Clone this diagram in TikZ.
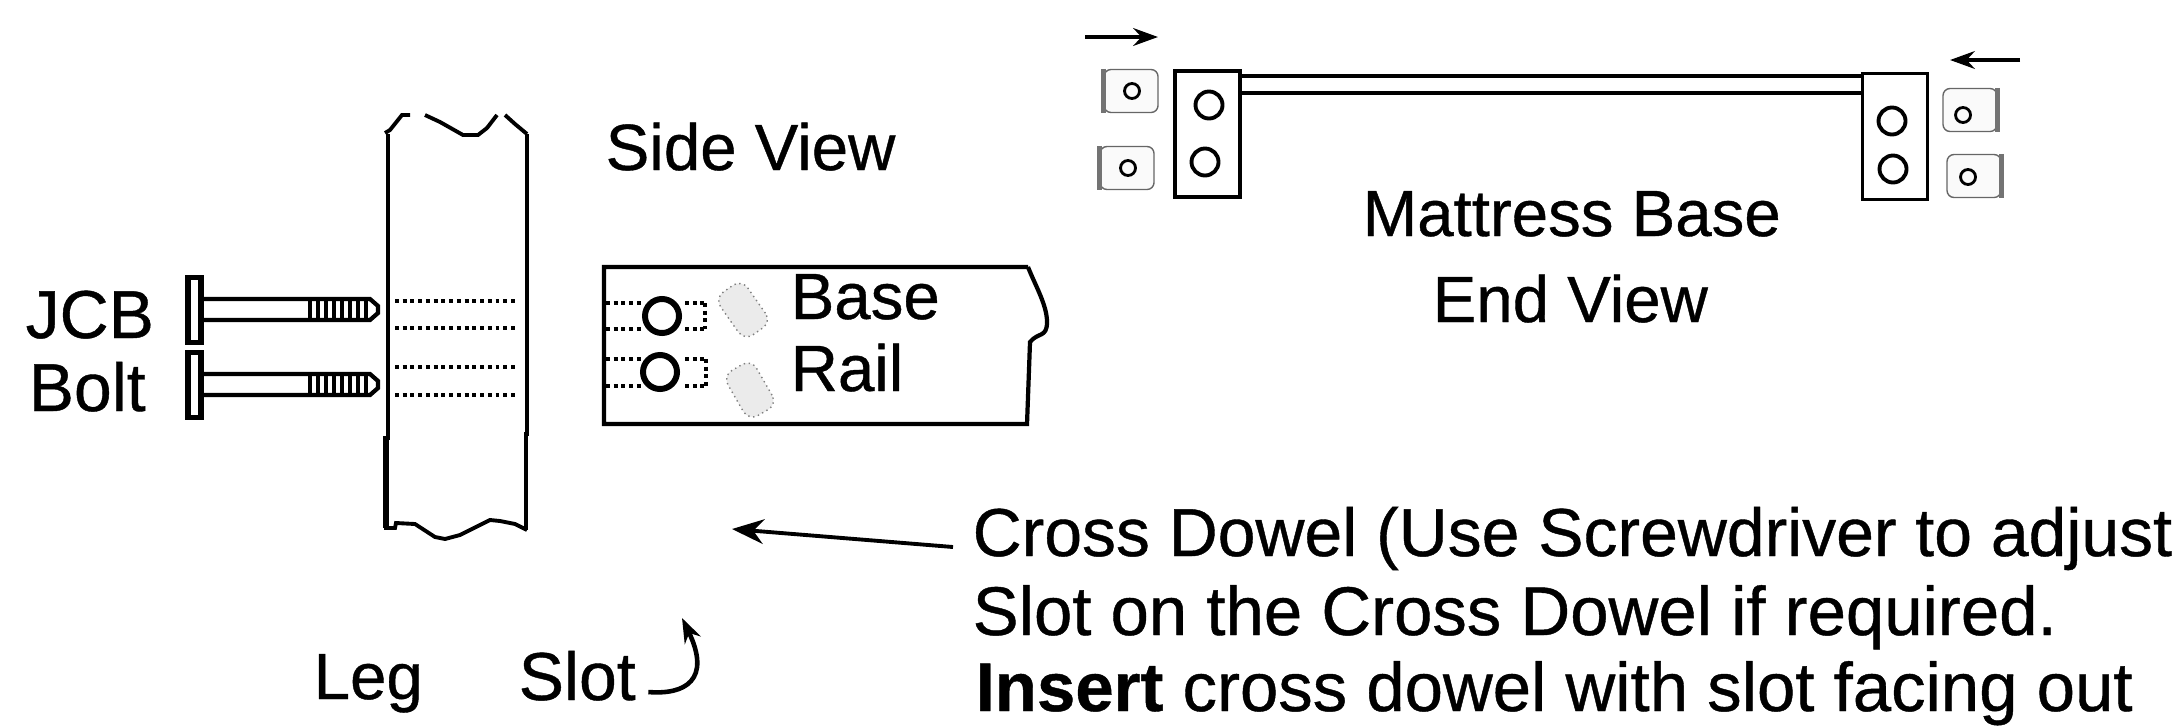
\documentclass[tikz,border=0pt]{standalone}
\usepackage{fontspec}
\setmainfont{Liberation Sans}[FakeBold=0.6]
\usetikzlibrary{arrows.meta}
\usetikzlibrary{calc}

\tikzset{
    label/.style={anchor=base west,inner sep=0pt,font=\fontsize{19.3}{20}\selectfont},
    smalllabel/.style={anchor=base west,inner sep=0pt,font=\fontsize{18.6}{20}\selectfont},
    widelabel/.style={anchor=base west,inner sep=0pt,font=\fontsize{19.6}{20}\selectfont},
    plate/.style={draw,line width=1.1pt,minimum width=0.65cm,minimum height=1.26cm,inner sep=0pt},
    hole/.style={circle,draw,line width=1.1pt,minimum size=0.27cm,inner sep=0pt},
    railhole/.style={circle,draw,line width=1.7pt,minimum size=0.34cm,inner sep=0pt},
    nut/.style={draw=black!60,rounded corners=2pt,fill=black!2,minimum width=0.54cm,minimum height=0.43cm,inner sep=0pt},
    nuthole/.style={circle,draw,line width=0.8pt,minimum size=0.15cm,inner sep=0pt},
    dowel/.style={draw=black!50,densely dotted,rounded corners=3pt,fill=black!8,minimum width=0.52cm,minimum height=0.33cm,inner sep=0pt},
    holeline/.style={line width=1.2pt,dash pattern=on 1.1pt off 1.1pt},
    pointer/.style={-{Stealth[length=9pt,width=7pt]},line width=1.1pt},
    pushes/.style={-{Stealth[length=7pt,width=5pt]},line width=1.3pt}
}

\begin{document}
\begin{tikzpicture}[x=0.01cm,y=-0.01cm]
    \useasboundingbox (0,0) rectangle (2180,727);

    % leg
    \draw [line width=0.9pt] (388,134) -- (388,440);
    \draw [line width=1.7pt] (386,436) -- (386,528);
    \draw [line width=0.9pt] (527,134) -- (527,436);
    \draw [line width=1.4pt] (526,432) -- (526,530);
    \draw [line width=1.1pt] (385,133) -- (390,130) -- (402,115) -- (410,115);
    \draw [line width=1.1pt] (425,115) -- (440,122) -- (463,135) -- (478,135) -- (487,128) -- (497,115);
    \draw [line width=1.1pt] (505,115) -- (515,124) -- (527,134);
    \draw [line width=1.1pt] (384,528) -- (395,528) -- (396,523) -- (415,524) -- (435,537) -- (445,539) -- (460,535)
        -- (480,525) -- (490,520) -- (500,521) -- (515,524) -- (527,530);
    \foreach \y in {301,328,367,395}{
        \draw [holeline] (395,\y) -- (518,\y);
    }

    % bolts
    \foreach \y/\name in {310/a,385/b}{
        \node (head\name) at (194.5,\y) [draw,line width=1.5pt,minimum width=0.13cm,minimum height=0.65cm,inner sep=0pt] {};
        \draw [line width=1.2pt] (head\name.east |- 0,\y-11) -- (370,\y-11) -- (378,\y-4) -- (378,\y+3) -- (370,\y+10) -- (head\name.east |- 0,\y+10);
        \foreach \x in {310,318,...,366}{
            \draw [line width=1.1pt] (\x,\y-10) -- (\x,\y+9);
        }
    }

    % base rail
    \draw [line width=1.2pt] (1028,267) -- (604,267) -- (604,424) -- (1027,424) -- (1030,342)
        .. controls (1038,332) and (1047,338) .. (1047,322) .. controls (1047,305) and (1035,285) .. (1028,267);
    \node (holea) at (662,316) [railhole] {};
    \node (holeb) at (660,372) [railhole] {};
    \foreach \y in {303,329,359,386}{
        \draw [holeline] (606,\y) -- (642,\y);
        \draw [holeline] (685,\y) -- (705,\y);
    }
    \draw [holeline] (705,303) -- (705,329);
    \draw [holeline] (706,359) -- (706,386);
    \node (dowela) at (743,310) [dowel,rotate=-55] {};
    \node (dowelb) at (750,390) [dowel,rotate=-60] {};

    % end view
    \node (platel) at (1207.5,134) [plate] {};
    \node (plater) at (1895,136.5) [plate] {};
    \draw [line width=0.9pt] (1240,76) -- (1862,76);
    \draw [line width=0.9pt] (1240,93) -- (1862,93);
    \foreach \x/\y/\name in {1209/105/a,1205/162/b,1892/121/c,1893/169/d}{
        \node (pin\name) at (\x,\y) [hole] {};
    }
    \foreach \x/\y/\hx/\hy/\name in {1131/91/1132/91/a,1127/168/1128/168/b,1970/110/1963/115/c,1974/176/1968/177/d}{
        \node (nut\name) at (\x,\y) [nut] {};
        \node (nuthole\name) at (\hx,\hy) [nuthole] {};
    }
    \draw [black!55,line width=1.5pt] (nuta.north west) -- (nuta.south west);
    \draw [black!55,line width=1.5pt] (nutb.north west) -- (nutb.south west);
    \draw [black!55,line width=1.5pt] (nutc.north east) -- (nutc.south east);
    \draw [black!55,line width=1.5pt] (nutd.north east) -- (nutd.south east);

    % labels
    \node (jcb) at (25,338) [label] {JCB};
    \node (bolt) at (28,411) [label] {Bolt};
    \node (side) at (605,170) [smalllabel] {Side View};
    \node (base) at (790,319) [smalllabel] {Base};
    \node (rail) at (790,391) [smalllabel] {Rail};
    \node (mattress) at (1362,236) [smalllabel] {Mattress Base};
    \node (endview) at (1432,322) [smalllabel] {End View};
    \node (leg) at (313,699) [smalllabel] {Leg};
    \node (slot) at (518,700) [label] {Slot};
    \node (line1) at (972,556) [label] {Cross Dowel (Use Screwdriver to adjust};
    \node (line2) at (972,635) [widelabel] {Slot on the Cross Dowel if required.};
    \node (line3) at (975,711) [widelabel] {\textbf{Insert} cross dowel with slot facing out};

    % arrows
    \coordinate (pushla) at (1085,37);
    \coordinate (pushlb) at (1158,37);
    \coordinate (pushra) at (2020,60);
    \coordinate (pushrb) at (1950,60);
    \coordinate (dowelend) at (732,529);
    \coordinate (slotend) at (682,618);
    \draw [pushes] (pushla) -- (pushlb);
    \draw [pushes] (pushra) -- (pushrb);
    \draw [pointer] (line1.west |- 0,547) ++(-19,0) -- (dowelend);
    \draw [pushes] (slot.east |- 0,692) ++(12,0) .. controls (685,695) and (712,680) .. (slotend);
\end{tikzpicture}
\end{document}
